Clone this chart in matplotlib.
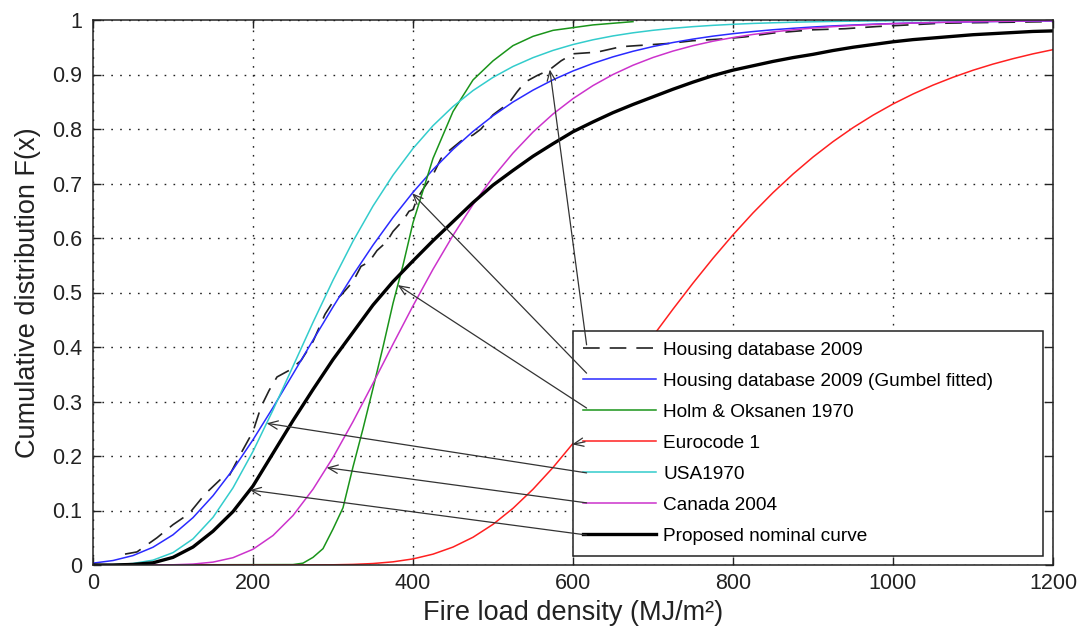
import numpy as np
import matplotlib
matplotlib.use("Agg")
import matplotlib.pyplot as plt

plt.rcParams['font.family'] = ['Liberation Sans', 'DejaVu Sans']

# ---------------- data ----------------
fire_load = [0, 25, 50, 75, 100, 125, 150, 175, 200, 225, 250, 275, 300, 325, 350,
             375, 400, 425, 450, 475, 500, 525, 550, 575, 600, 625, 650, 675, 700,
             725, 750, 775, 800, 825, 850, 875, 900, 925, 950, 975, 1000, 1025, 1050,
             1075, 1100, 1125, 1150, 1175, 1200]

housing_x = [40, 55, 80, 100, 120, 140, 160, 170, 185, 200, 210, 220, 230, 245, 260,
             275, 290, 300, 310, 325, 335, 345, 355, 367, 375, 388, 395, 400, 405, 415,
             425, 435, 445, 460, 475, 485, 500, 520, 530, 540, 555, 570, 585, 600, 630,
             660, 690, 720, 750, 785, 815, 850, 900, 940, 980, 1020, 1060, 1100, 1150, 1200]
housing_F = [0.020, 0.024, 0.050, 0.074, 0.094, 0.130, 0.158, 0.163, 0.205, 0.245, 0.290,
             0.320, 0.345, 0.357, 0.375, 0.410, 0.460, 0.483, 0.495, 0.520, 0.548, 0.556,
             0.577, 0.593, 0.612, 0.633, 0.649, 0.652, 0.672, 0.695, 0.716, 0.746, 0.760,
             0.778, 0.789, 0.800, 0.826, 0.848, 0.868, 0.886, 0.898, 0.908, 0.925, 0.938,
             0.941, 0.951, 0.954, 0.957, 0.962, 0.965, 0.969, 0.976, 0.982, 0.984, 0.988,
             0.991, 0.994, 0.995, 0.996, 0.997]

gumbel_fit = [0.0034, 0.0082, 0.0173, 0.0326, 0.0554, 0.0869, 0.1271, 0.1752, 0.2298,
              0.2889, 0.3505, 0.4126, 0.4735, 0.5320, 0.5869, 0.6376, 0.6839, 0.7255,
              0.7626, 0.7955, 0.8243, 0.8495, 0.8713, 0.8902, 0.9065, 0.9204, 0.9324,
              0.9426, 0.9513, 0.9587, 0.9650, 0.9704, 0.9749, 0.9788, 0.9821, 0.9848,
              0.9872, 0.9892, 0.9908, 0.9923, 0.9935, 0.9945, 0.9953, 0.9961, 0.9967,
              0.9972, 0.9976, 0.9980, 0.9983]

holm_x = [0, 250, 262.5, 275, 287.5, 300, 312.5, 325, 337.5, 350, 362.5, 375, 387.5,
          400, 425, 450, 475, 500, 525, 550, 575, 600, 625, 650, 675]
holm_1970 = [0, 0.0008, 0.0034, 0.014, 0.030, 0.066, 0.105, 0.180, 0.250, 0.324, 0.400,
             0.480, 0.550, 0.628, 0.746, 0.832, 0.890, 0.925, 0.953, 0.970, 0.981, 0.986,
             0.991, 0.994, 0.997]

eurocode_1 = [0, 0, 0, 0, 0, 0, 0, 0, 0, 0, 0, 0.0001, 0.0004, 0.0011, 0.0027, 0.0058,
              0.0112, 0.0199, 0.0329, 0.0509, 0.0746, 0.1040, 0.1390, 0.1789, 0.2231,
              0.2703, 0.3196, 0.3699, 0.4201, 0.4695, 0.5172, 0.5628, 0.6058, 0.6460,
              0.6832, 0.7173, 0.7485, 0.7768, 0.8024, 0.8253, 0.8459, 0.8642, 0.8805,
              0.8949, 0.9078, 0.9191, 0.9290, 0.9379, 0.9456]

usa_1970 = [0.0001, 0.0006, 0.0028, 0.0089, 0.0227, 0.0479, 0.0874, 0.1416, 0.2085,
            0.2843, 0.3646, 0.4452, 0.5225, 0.5941, 0.6586, 0.7153, 0.7643, 0.8061,
            0.8412, 0.8705, 0.8947, 0.9147, 0.9309, 0.9442, 0.9550, 0.9637, 0.9708,
            0.9765, 0.9811, 0.9848, 0.9878, 0.9902, 0.9921, 0.9937, 0.9949, 0.9959,
            0.9967, 0.9974, 0.9979, 0.9983, 0.9987, 0.9989, 0.9991, 0.9993, 0.9994,
            0.9995, 0.9996, 0.9997, 0.9998]

canada_2004 = [0, 0, 0, 0.0001, 0.0004, 0.0017, 0.0053, 0.0134, 0.0289, 0.0541, 0.0908,
               0.1390, 0.1973, 0.2631, 0.3334, 0.4052, 0.4756, 0.5426, 0.6048, 0.6613,
               0.7116, 0.7558, 0.7944, 0.8275, 0.8557, 0.8797, 0.9000, 0.9170, 0.9312,
               0.9430, 0.9529, 0.9611, 0.9678, 0.9735, 0.9781, 0.9820, 0.9852, 0.9878,
               0.9900, 0.9917, 0.9932, 0.9944, 0.9954, 0.9962, 0.9969, 0.9974, 0.9979,
               0.9983, 0.9986]

proposed = [0, 0, 0.001, 0.004, 0.014, 0.033, 0.062, 0.098, 0.145, 0.205, 0.265, 0.322,
            0.377, 0.427, 0.477, 0.520, 0.558, 0.595, 0.630, 0.665, 0.697, 0.724, 0.750,
            0.773, 0.795, 0.813, 0.830, 0.845, 0.859, 0.873, 0.886, 0.898, 0.908, 0.916,
            0.924, 0.931, 0.937, 0.944, 0.950, 0.955, 0.960, 0.964, 0.967, 0.970, 0.973,
            0.975, 0.977, 0.979, 0.980]

labels = ["Housing database 2009", "Housing database 2009 (Gumbel fitted)",
          "Holm & Oksanen 1970", "Eurocode 1", "USA1970", "Canada 2004",
          "Proposed nominal curve"]

x_ticks = [0, 200, 400, 600, 800, 1000, 1200]
y_ticks = [0, 0.1, 0.2, 0.3, 0.4, 0.5, 0.6, 0.7, 0.8, 0.9, 1]
y_tick_labels = ["0", "0.1", "0.2", "0.3", "0.4", "0.5", "0.6", "0.7", "0.8", "0.9", "1"]

# ---------------- figure ----------------
W, H = 1079, 627
fig = plt.figure(figsize=(W / 100, H / 100), dpi=100)
ax = fig.add_axes([93 / W, 62 / H, 960 / W, 545 / H])

x = np.array(fire_load, dtype=float)
lines = []
lines += ax.plot(housing_x, housing_F, color='#222222', lw=1.2, dashes=(10, 6))
lines += ax.plot(x, gumbel_fit, color='#2a2aff', lw=1.1)
lines += ax.plot(holm_x, holm_1970, color='#1a941a', lw=1.1)
lines += ax.plot(x, eurocode_1, color='#ff2020', lw=1.1)
lines += ax.plot(x, usa_1970, color='#33cccc', lw=1.1)
lines += ax.plot(x, canada_2004, color='#cc33cc', lw=1.1)
lines += ax.plot(x, proposed, color='black', lw=2.4)

ax.set_xlim(0, 1200)
ax.set_ylim(0, 1)
ax.set_xticks(x_ticks)
ax.set_xticklabels([str(v) for v in x_ticks])
ax.set_yticks(y_ticks)
ax.set_yticklabels(y_tick_labels)
ax.tick_params(direction='in', length=6, width=1, top=True, right=True,
               labelsize=15.5, colors='#222222', pad=6)
ax.tick_params(axis='y', pad=8)
for s in ax.spines.values():
    s.set_linewidth(1.1)
    s.set_color('#222222')

ax.grid(True, color='#222222', lw=1.0, linestyle=(0, (1.2, 5.2)))
ax.set_axisbelow(True)

ax.set_xlabel("Fire load density (MJ/m²)", fontsize=19.5, color='#222222', labelpad=4)
ax.set_ylabel("Cumulative distribution F(x)", fontsize=19.5, color='#222222', labelpad=8)

leg = ax.legend(lines, labels, loc='upper left',
                bbox_to_anchor=(0.5, 0.018, 0.49, 0.411), mode='expand',
                fontsize=13.7, frameon=True, fancybox=False, framealpha=1,
                edgecolor='#222222', handlelength=3.8, handletextpad=0.4,
                labelspacing=0.72, borderpad=0.55, borderaxespad=0)
leg.get_frame().set_linewidth(1.1)

# ---------------- arrows from legend entries to curves ----------------
series_for_arrow = [(housing_x, housing_F), (fire_load, gumbel_fit),
                    (holm_x, holm_1970), (fire_load, eurocode_1),
                    (fire_load, usa_1970), (fire_load, canada_2004), (fire_load, proposed)]
head_x = [571, 399, 381, 599, 217, 292, 196]
tail_pts = [(617, 0.404), (617, 0.352), (617, 0.288), (615, 0.226),
            (617, 0.169), (617, 0.114), (617, 0.055)]
for (sx, sy), hx, tp in zip(series_for_arrow, head_x, tail_pts):
    hy = float(np.interp(hx, sx, sy))
    ax.annotate('', xy=(hx, hy), xytext=tp,
                arrowprops=dict(arrowstyle='->,head_length=0.7,head_width=0.3',
                                color='#333333', lw=0.9, shrinkA=0, shrinkB=0),
                zorder=6)

fig.savefig("out.png", dpi=100)
